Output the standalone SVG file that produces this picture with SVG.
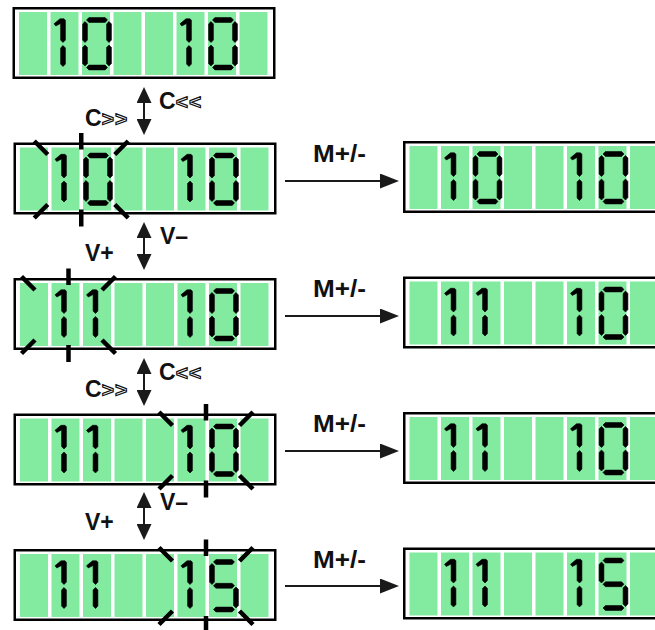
<svg xmlns="http://www.w3.org/2000/svg" xmlns:xlink="http://www.w3.org/1999/xlink" width="655" height="630" viewBox="0 0 655 630">
<style>
.cell{fill:#82eba0}
.seg{fill:#000;stroke:#000;stroke-width:0.6;stroke-linejoin:round}
.blk{fill:none;stroke:#000;stroke-width:4.5}
.lbl{font-family:"Liberation Sans",Arial,sans-serif;font-weight:bold;font-size:23px;fill:#111}
.ol{fill:#fff;stroke:#111;stroke-width:1.2;font-size:21px;letter-spacing:1px}
.harr{stroke:#1a1a1a;stroke-width:2;fill:none}
.varr{stroke:#1a1a1a;stroke-width:2;fill:none}
</style>
<defs>
<marker id="ah" markerUnits="userSpaceOnUse" markerWidth="19" markerHeight="15" refX="16" refY="7.5" orient="auto">
<path d="M0,0 L19,7.5 L0,15 Z" fill="#1a1a1a"/>
</marker>
<marker id="av" markerUnits="userSpaceOnUse" markerWidth="16" markerHeight="15" refX="13" refY="7.5" orient="auto-start-reverse">
<path d="M0,0 L16,7.5 L0,15 Z" fill="#1a1a1a"/>
</marker>
<g id="frame">
<rect x="1.25" y="1.25" width="260.5" height="69.5" fill="#fff" stroke="#000" stroke-width="2.5"/>
<rect class="cell" x="6.5" y="5" width="28" height="63"/>
<rect class="cell" x="38" y="5" width="28" height="63"/>
<rect class="cell" x="69.5" y="5" width="28" height="63"/>
<rect class="cell" x="101" y="5" width="28" height="63"/>
<rect class="cell" x="132.5" y="5" width="28" height="63"/>
<rect class="cell" x="164" y="5" width="28" height="63"/>
<rect class="cell" x="195.5" y="5" width="28" height="63"/>
<rect class="cell" x="227" y="5" width="28" height="63"/>
</g>
<path id="sa" class="seg" d="M4.5,13 L6.9,10.6 L23.1,10.6 L25.5,13 L23.1,15.4 L6.9,15.4 Z"/>
<path id="sg" class="seg" d="M4.5,36.75 L6.9,34.35 L23.1,34.35 L25.5,36.75 L23.1,39.15 L6.9,39.15 Z"/>
<path id="sd" class="seg" d="M4.5,60.5 L6.9,58.1 L23.1,58.1 L25.5,60.5 L23.1,62.9 L6.9,62.9 Z"/>
<path id="sf" class="seg" d="M3,14.5 L5.4,16.9 L5.4,33.1 L3,35.5 L0.6,33.1 L0.6,16.9 Z"/>
<path id="sb" class="seg" d="M27,14.5 L29.4,16.9 L29.4,33.1 L27,35.5 L24.6,33.1 L24.6,16.9 Z"/>
<path id="se" class="seg" d="M3,38 L5.4,40.4 L5.4,56.6 L3,59 L0.6,56.6 L0.6,40.4 Z"/>
<path id="sc" class="seg" d="M27,38 L29.4,40.4 L29.4,56.6 L27,59 L24.6,56.6 L24.6,40.4 Z"/>
<g id="zero"><use href="#sa"/><use href="#sf"/><use href="#sb"/><use href="#se"/><use href="#sc"/><use href="#sd"/></g>
<g id="five"><use href="#sa"/><use href="#sf"/><use href="#sg"/><use href="#sc"/><use href="#sd"/></g>
<g id="one">
<path class="seg" d="M3.5,16.8 L9.5,11.8 L13.5,11.8 L14.9,13.3 L14.9,33.1 L12.5,35.5 L10.1,33.1 L10.1,16.5 L5.3,19 Z"/>
<path class="seg" d="M12.5,38.5 L14.9,40.9 L14.9,57.1 L12.5,59.5 L10.1,57.1 L10.1,40.9 Z"/>
</g>
<path id="blink" class="blk" d="M-47,-1.5 L-33.5,12 M47,-1.5 L33.5,12 M-47,75.5 L-33.5,62 M47,75.5 L33.5,62 M0,-9.5 V7 M0,67 V84"/>
</defs>

<g id="display-1" transform="translate(12.5,7)">
<use href="#frame"/>
<use href="#one" x="38"/><use href="#zero" x="69.5"/><use href="#one" x="164"/><use href="#zero" x="195.5"/>
</g>
<g id="display-2" transform="translate(13.5,142.5)">
<use href="#frame"/>
<use href="#one" x="38"/><use href="#zero" x="69.5"/><use href="#one" x="164"/><use href="#zero" x="195.5"/>
<use href="#blink" x="67.75"/>
</g>
<g id="display-3" transform="translate(13.5,278)">
<use href="#frame"/>
<use href="#one" x="38"/><use href="#one" x="69.5"/><use href="#one" x="164"/><use href="#zero" x="195.5"/>
<use href="#blink" x="55"/>
</g>
<g id="display-4" transform="translate(13.5,413.5)">
<use href="#frame"/>
<use href="#one" x="38"/><use href="#one" x="69.5"/><use href="#one" x="164"/><use href="#zero" x="195.5"/>
<use href="#blink" x="192.5"/>
</g>
<g id="display-5" transform="translate(13.5,549)">
<use href="#frame"/>
<use href="#one" x="38"/><use href="#one" x="69.5"/><use href="#one" x="164"/><use href="#five" x="195.5"/>
<use href="#blink" x="192.5"/>
</g>

<g id="result-2" transform="translate(403,141)">
<use href="#frame"/>
<use href="#one" x="38"/><use href="#zero" x="69.5"/><use href="#one" x="164"/><use href="#zero" x="195.5"/>
</g>
<g id="result-3" transform="translate(403,276.5)">
<use href="#frame"/>
<use href="#one" x="38"/><use href="#one" x="69.5"/><use href="#one" x="164"/><use href="#zero" x="195.5"/>
</g>
<g id="result-4" transform="translate(403,412)">
<use href="#frame"/>
<use href="#one" x="38"/><use href="#one" x="69.5"/><use href="#one" x="164"/><use href="#zero" x="195.5"/>
</g>
<g id="result-5" transform="translate(403,547.5)">
<use href="#frame"/>
<use href="#one" x="38"/><use href="#one" x="69.5"/><use href="#one" x="164"/><use href="#five" x="195.5"/>
</g>

<g id="connectors">
<line class="varr" x1="144" y1="90" x2="144" y2="132" marker-start="url(#av)" marker-end="url(#av)"/>
<line class="varr" x1="144" y1="225" x2="144" y2="267" marker-start="url(#av)" marker-end="url(#av)"/>
<line class="varr" x1="144" y1="361" x2="144" y2="403" marker-start="url(#av)" marker-end="url(#av)"/>
<line class="varr" x1="144" y1="495" x2="144" y2="537" marker-start="url(#av)" marker-end="url(#av)"/>
<line class="harr" x1="285" y1="181" x2="396" y2="181" marker-end="url(#ah)"/>
<line class="harr" x1="285" y1="316" x2="396" y2="316" marker-end="url(#ah)"/>
<line class="harr" x1="285" y1="451" x2="396" y2="451" marker-end="url(#ah)"/>
<line class="harr" x1="285" y1="586" x2="396" y2="586" marker-end="url(#ah)"/>
</g>

<g id="labels">
<text class="lbl" x="159" y="108.5">C<tspan class="ol">&lt;&lt;</tspan></text>
<text class="lbl" x="85" y="125.5">C<tspan class="ol">&gt;&gt;</tspan></text>
<text class="lbl" x="160" y="243.5">V–</text>
<text class="lbl" x="85" y="260.5">V+</text>
<text class="lbl" x="159" y="379.5">C<tspan class="ol">&lt;&lt;</tspan></text>
<text class="lbl" x="85" y="396.5">C<tspan class="ol">&gt;&gt;</tspan></text>
<text class="lbl" x="160" y="509.5">V–</text>
<text class="lbl" x="85" y="530">V+</text>
<text class="lbl" x="313" y="162" textLength="53" lengthAdjust="spacingAndGlyphs">M+/-</text>
<text class="lbl" x="313" y="297" textLength="53" lengthAdjust="spacingAndGlyphs">M+/-</text>
<text class="lbl" x="313" y="432" textLength="53" lengthAdjust="spacingAndGlyphs">M+/-</text>
<text class="lbl" x="313" y="567.5" textLength="53" lengthAdjust="spacingAndGlyphs">M+/-</text>
</g>
</svg>
